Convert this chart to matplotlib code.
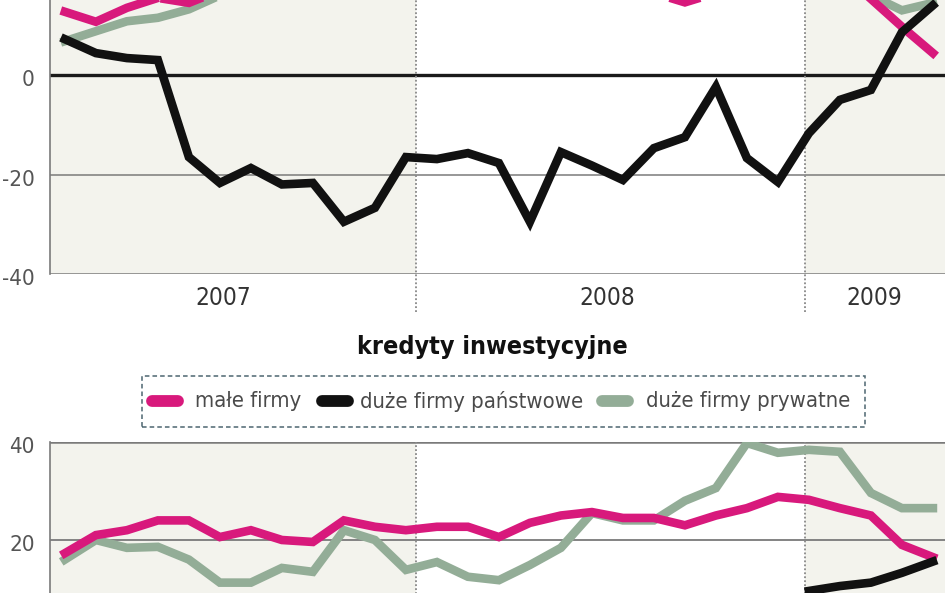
import numpy as np
import matplotlib
matplotlib.use('Agg')
import matplotlib.pyplot as plt
from matplotlib.lines import Line2D
from matplotlib.patches import Rectangle
from matplotlib.transforms import ScaledTranslation

plt.rcParams['font.family'] = ['DejaVu Sans']
plt.rcParams['font.stretch'] = 'condensed'

# monthly points, Jan 2007 .. May 2009
x = np.arange(29)

# upper panel (values above ~15 are cut off by the picture edge)
top_male = [12.7, 10.7, 13.5, 15.5, 14.5, 17, 19, 21, 22, 23, 24, 24, 23, 22, 21,
            20, 19, 18, 17.5, 16.5, 14.6, 16.5, 18, 20, 22, 19, 15.3, 9.7, 4.4]
top_panstw = [7.2, 4.4, 3.4, 3.0, -16.5, -21.7, -18.7, -22.0, -21.7, -29.5, -26.7,
              -16.5, -16.9, -15.7, -17.7, -29.5, -15.5, -18.2, -21.1, -14.7, -12.5,
              -2.4, -16.7, -21.5, -11.7, -5.0, -3.0, 8.6, 14.0]
top_pryw = [6.8, 8.8, 10.8, 11.5, 13.2, 16, 18, 19, 20, 21, 22, 22, 21, 20, 20,
            19, 19, 18, 18, 17, 17, 18, 19, 20, 21, 19, 16, 13.0, 14.5]

# kredyty inwestycyjne
inv_male = [17.3, 21.0, 22.0, 24.0, 24.0, 20.6, 22.0, 20.0, 19.6, 24.0, 22.7, 22.0,
            22.7, 22.7, 20.6, 23.5, 25.0, 25.7, 24.5, 24.5, 23.0, 25.0, 26.5, 28.8,
            28.2, 26.5, 25.0, 19.0, 16.5]
inv_panstw = [np.nan] * 24 + [9.6, 10.6, 11.3, 13.3, 15.6]
inv_pryw = [16.0, 20.0, 18.4, 18.6, 16.0, 11.3, 11.3, 14.3, 13.5, 22.0, 20.0, 13.9,
            15.5, 12.5, 11.8, 14.9, 18.4, 25.5, 24.0, 24.0, 28.0, 30.6, 39.8, 37.8,
            38.4, 38.0, 29.6, 26.5, 26.5]

years = ['2007', '2008', '2009']
year_pos = [5.1, 17.5, 26.1]
year_breaks = [11.32, 23.87]

c_male = '#d8197c'
c_panstw = '#111111'
c_pryw = '#93ad97'
c_shade = '#f3f3ed'
c_grey = '#7a7a7a'

W, H = 948, 593
fig = plt.figure(figsize=(W / 100, H / 100), dpi=100)
fig.patch.set_facecolor('white')

def frac(px_left, px_top, px_w, px_h):
    return [px_left / W, 1 - (px_top + px_h) / H, px_w / W, px_h / H]

xlim = (-0.48, 28.39)
lw = 6.2

def style(ax, ylim, ticks):
    ax.set_xlim(*xlim)
    ax.set_ylim(*ylim)
    ax.set_facecolor('white')
    ax.axvspan(xlim[0], year_breaks[0], color=c_shade, zorder=0, lw=0)
    ax.axvspan(year_breaks[1], xlim[1], color=c_shade, zorder=0, lw=0)
    for s in ['right', 'top', 'bottom']:
        ax.spines[s].set_visible(False)
    ax.spines['left'].set_color(c_grey)
    ax.spines['left'].set_linewidth(1.2)
    ax.set_xticks([])
    ax.set_yticks(ticks)
    ax.set_yticklabels([str(t) for t in ticks])
    ax.tick_params(axis='y', length=0, pad=11, labelsize=16, labelcolor='#555555')
    for lab in ax.get_yticklabels():
        lab.set_transform(lab.get_transform() + ScaledTranslation(0, -0.03, fig.dpi_scale_trans))

# ---- upper panel
ax1 = fig.add_axes(frac(50, 75 - 99.5, 895, 298.5))
style(ax1, (-40, 20), [0, -20, -40])
ax1.axhline(-20, color=c_grey, lw=1.1, zorder=1)
ax1.axhline(-40, color=c_grey, lw=1.8, zorder=1)
ax1.axhline(0, color='#1a1a1a', lw=2.4, zorder=1)
for b in year_breaks:
    ax1.axvline(b, ymin=-38 / 298.5, ymax=1, color='#888888', lw=1.3, ls=(0, (1, 1.2)),
                clip_on=False, zorder=1)
ax1.plot(x, top_pryw, color=c_pryw, lw=lw, solid_joinstyle='miter', zorder=3)
ax1.plot(x, top_male, color=c_male, lw=lw, solid_joinstyle='miter', zorder=4)
ax1.plot(x, top_panstw, color=c_panstw, lw=lw, solid_joinstyle='miter', zorder=5)
for yr, p in zip(years, year_pos):
    ax1.text(p, -40, yr, ha='center', va='top', fontsize=17.5, color='#333333',
             transform=ax1.transData + ScaledTranslation(0, -0.12, fig.dpi_scale_trans))

# ---- lower panel
ax2 = fig.add_axes(frac(50, 442, 895, 196))
style(ax2, (0, 40), [40, 20])
ax2.axhline(40, color=c_grey, lw=1.8, zorder=1)
ax2.axhline(20, color=c_grey, lw=1.3, zorder=1)
for b in year_breaks:
    ax2.axvline(b, color='#888888', lw=1.3, ls=(0, (1, 1.2)), zorder=1)
ax2.plot(x, inv_pryw, color=c_pryw, lw=lw, solid_joinstyle='miter', zorder=3)
ax2.plot(x, inv_male, color=c_male, lw=lw, solid_joinstyle='miter', zorder=4)
ax2.plot(x, inv_panstw, color=c_panstw, lw=lw, solid_joinstyle='miter', zorder=5)

# title
fig.text(492 / W, 1 - 347 / H, 'kredyty inwestycyjne', ha='center', va='center',
         fontsize=18, fontweight='bold', color='#111111')

# legend box
fig.patches.append(Rectangle((142 / W, 1 - 427 / H), (865 - 142) / W, (427 - 376) / H,
                             transform=fig.transFigure, fill=False, ec='#4d6670',
                             lw=1.1, ls=(0, (3, 2))))
legend_items = [('małe firmy', c_male, 152, 195),
                ('duże firmy państwowe', c_panstw, 322, 360),
                ('duże firmy prywatne', c_pryw, 602, 646)]
for label, col, hx, tx in legend_items:
    fig.add_artist(Line2D([hx / W, (hx + 26) / W], [1 - 401 / H] * 2, transform=fig.transFigure,
                          color=col, lw=8.5, solid_capstyle='round'))
    fig.text(tx / W, 1 - 401 / H, label, ha='left', va='center', fontsize=15.8, color='#4a4a4a')

fig.savefig('out.png', dpi=100)
